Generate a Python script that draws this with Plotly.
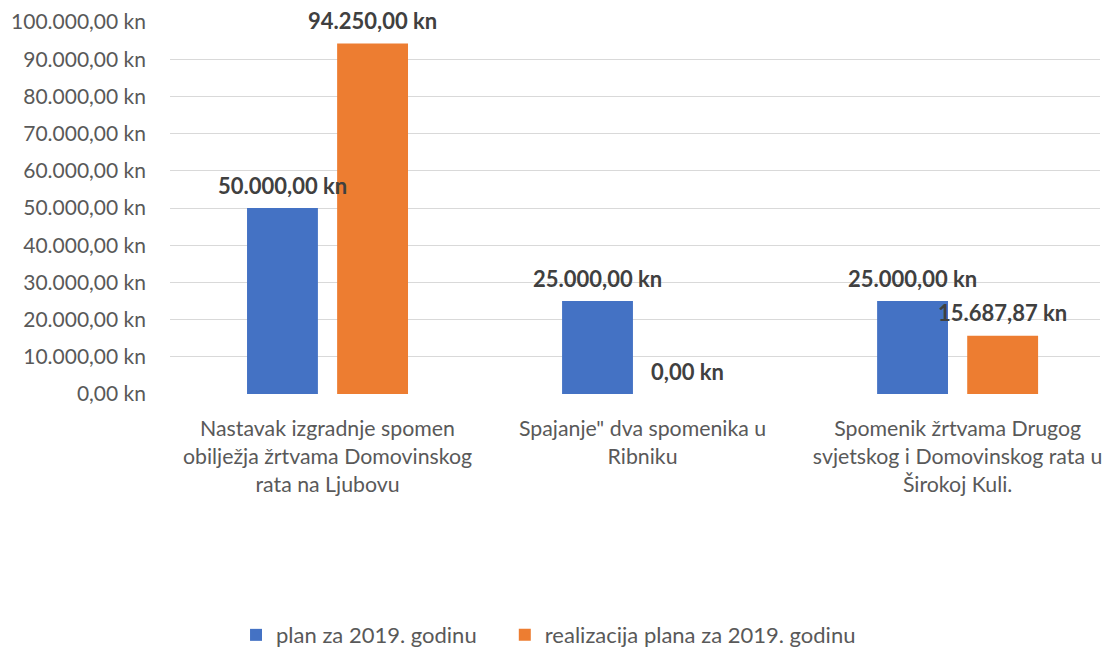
import plotly.graph_objects as go

categories = [
    "Nastavak izgradnje spomen<br>obilježja žrtvama Domovinskog<br>rata na Ljubovu",
    "Spajanje\" dva spomenika u<br>Ribniku",
    "Spomenik žrtvama Drugog<br>svjetskog i Domovinskog rata u<br>Širokoj Kuli.",
]
plan = [50000, 25000, 25000]
realizacija = [94250, 0, 15687.87]
series_names = ["plan za 2019. godinu", "realizacija plana za 2019. godinu"]
colors = ["#4472C4", "#ED7D31"]


def kn(v):
    s = "{:,.2f}".format(v)
    s = s.replace(",", "X").replace(".", ",").replace("X", ".")
    return s + " kn"


FONT = "Lato"
pos = list(range(len(categories)))
offs = [-0.143, 0.143]
legends = ["legend", "legend2"]

fig = go.Figure()
annotations = []
for name, vals, col, off, lg in zip(series_names, [plan, realizacija], colors, offs, legends):
    xs = [p + off for p in pos]
    fig.add_trace(go.Bar(x=xs, y=vals, name=name, width=0.225, legend=lg, showlegend=True,
                         marker=dict(color=col, line=dict(width=0))))
    for x, v in zip(xs, vals):
        annotations.append(dict(x=x, y=v, xref="x", yref="y", text="<b>" + kn(v) + "</b>",
                                showarrow=False, yanchor="middle", yshift=23,
                                font=dict(family=FONT, size=22, color="#404040")))

legend_font = dict(family=FONT, size=22, color="#595959")

# page body has an 8px margin, so the figure is 16px smaller than the window
fig.update_layout(
    width=1095, height=643,
    margin=dict(l=162, r=3, t=14, b=257, autoexpand=False),
    paper_bgcolor="white", plot_bgcolor="white",
    barmode="overlay",
    separators=",.",
    showlegend=True,
    font=dict(family=FONT, size=22, color="#595959"),
    annotations=annotations,
    legend=dict(orientation="h", x=0.071, xanchor="left", y=-0.648, yanchor="middle",
                font=legend_font, bgcolor="rgba(0,0,0,0)", visible=True),
    legend2=dict(orientation="h", x=0.360, xanchor="left", y=-0.648, yanchor="middle",
                 font=legend_font, bgcolor="rgba(0,0,0,0)", visible=True),
)
fig.update_xaxes(range=[-0.5, 2.452], tickvals=pos, ticktext=categories,
                 showgrid=False, zeroline=False, showline=False, ticks="",
                 automargin=False, ticklabelstandoff=20, ticklabeloverflow="allow",
                 tickfont=dict(family=FONT, size=21.3, color="#595959"))
fig.update_yaxes(range=[0, 100000], dtick=10000, tickformat=",.2f", ticksuffix=" kn",
                 showgrid=True, gridcolor="#D9D9D9", gridwidth=1,
                 zeroline=False, showline=False, ticks="", ticklabelstandoff=23,
                 automargin=False,
                 tickfont=dict(family=FONT, size=21, color="#595959"))

fig.write_html("out.html")
